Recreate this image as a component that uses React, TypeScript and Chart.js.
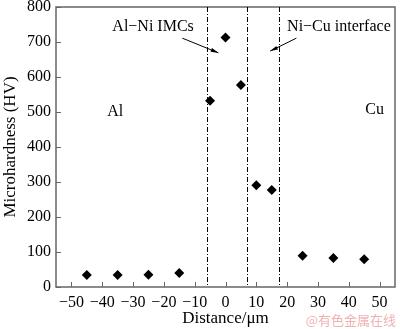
import React, { useEffect, useRef } from "react";
import { Chart, registerables } from "chart.js";

Chart.register(...registerables);

const distances = [-45, -35, -25, -15, -5, 0, 5, 10, 15, 25, 35, 45];
const hardness = [34, 34, 35, 40, 532, 713, 577, 291, 277, 89, 83, 79];
const xTicks = [-50, -40, -30, -20, -10, 0, 10, 20, 30, 40, 50];
const yTicks = [0, 100, 200, 300, 400, 500, 600, 700, 800];
const boundaryLines = [-6, 7, 17.5];
const labelTexts = ["Al\u2212Ni IMCs", "Ni\u2212Cu interface", "Al", "Cu"];
const labelX = [-23.5, 36.8, -35.8, 48.4];
const labelY = [743, 743, 500, 506];
const arrowFrom = [[-14, 711], [23, 711]];
const arrowTo = [[-2.3, 669], [14.5, 674]];
const watermark = "@有色金属在线";

const FONT = "'Liberation Serif', 'Times New Roman', serif";

export default function App() {
  const ref = useRef<HTMLCanvasElement>(null);
  useEffect(() => {
    document.body.style.margin = "0";
    const canvas = ref.current!;
    const overlay = {
      id: "overlay",
      afterDraw(chart: any) {
        const ctx = chart.ctx;
        const xs = chart.scales.x;
        const ys = chart.scales.y;
        const a = chart.chartArea;
        ctx.save();
        // frame
        ctx.strokeStyle = "#666";
        ctx.lineWidth = 1.5;
        ctx.strokeRect(a.left, a.top, a.right - a.left, a.bottom - a.top);
        // inward ticks
        ctx.lineWidth = 1;
        xTicks.forEach((v) => {
          const px = Math.round(xs.getPixelForValue(v)) + 0.5;
          ctx.beginPath();
          ctx.moveTo(px, a.bottom);
          ctx.lineTo(px, a.bottom - 5);
          ctx.stroke();
        });
        yTicks.forEach((v) => {
          const py = Math.round(ys.getPixelForValue(v)) + 0.5;
          ctx.beginPath();
          ctx.moveTo(a.left, py);
          ctx.lineTo(a.left + 5, py);
          ctx.stroke();
        });
        // boundary lines
        ctx.strokeStyle = "#000";
        ctx.lineWidth = 1;
        ctx.setLineDash([5, 2, 1, 2]);
        boundaryLines.forEach((v) => {
          const px = Math.round(xs.getPixelForValue(v)) + 0.5;
          ctx.beginPath();
          ctx.moveTo(px, a.top);
          ctx.lineTo(px, a.bottom);
          ctx.stroke();
        });
        ctx.setLineDash([]);
        // texts
        ctx.fillStyle = "#000";
        ctx.font = `16px ${FONT}`;
        ctx.textAlign = "center";
        ctx.textBaseline = "middle";
        labelTexts.forEach((t, i) => {
          ctx.fillText(t, xs.getPixelForValue(labelX[i]), ys.getPixelForValue(labelY[i]));
        });
        // arrows
        arrowFrom.forEach((f, i) => {
          const x1 = xs.getPixelForValue(f[0]);
          const y1 = ys.getPixelForValue(f[1]);
          const x2 = xs.getPixelForValue(arrowTo[i][0]);
          const y2 = ys.getPixelForValue(arrowTo[i][1]);
          ctx.beginPath();
          ctx.moveTo(x1, y1);
          ctx.lineTo(x2, y2);
          ctx.stroke();
          const ang = Math.atan2(y2 - y1, x2 - x1);
          const L = 8, W = 0.25;
          ctx.beginPath();
          ctx.moveTo(x2, y2);
          ctx.lineTo(x2 - L * Math.cos(ang - W), y2 - L * Math.sin(ang - W));
          ctx.lineTo(x2 - L * Math.cos(ang + W), y2 - L * Math.sin(ang + W));
          ctx.closePath();
          ctx.fill();
        });
        // watermark
        ctx.fillStyle = "rgba(235,150,150,0.75)";
        ctx.font = `13px 'Noto Sans CJK SC', sans-serif`;
        ctx.textAlign = "right";
        ctx.fillText(watermark, 396, 320);
        ctx.restore();
      },
    };
    const chart = new Chart(canvas, {
      type: "scatter",
      data: {
        datasets: [
          {
            data: distances.map((d, i) => ({ x: d, y: hardness[i] })),
            pointStyle: "rectRot",
            pointRadius: 5,
            backgroundColor: "#000",
            borderColor: "#000",
            borderWidth: 0,
          },
        ],
      },
      options: {
        animation: false,
        responsive: false,
        layout: { padding: { top: 7, right: -2, left: 0, bottom: 0 } },
        plugins: { legend: { display: false }, tooltip: { enabled: false } },
        scales: {
          x: {
            type: "linear",
            min: -55,
            max: 55,
            afterBuildTicks: (s: any) => {
              s.ticks = xTicks.map((v) => ({ value: v }));
            },
            afterFit: (s: any) => {
              s.height = 42;
              s.paddingLeft = 0;
              s.paddingRight = 0;
            },
            grid: { drawOnChartArea: false, drawTicks: false },
            border: { display: false },
            ticks: {
              color: "#000",
              font: { family: FONT, size: 16 },
              padding: 6,
              maxRotation: 0,
              autoSkip: false,
              callback: (v: any) => (Number(v) < 0 ? "\u2212" + Math.abs(Number(v)) : String(v)),
            },
            title: {
              display: true,
              text: "Distance/μm",
              color: "#000",
              font: { family: FONT, size: 17 },
              padding: { top: 9, bottom: 0 },
            },
          },
          y: {
            min: 0,
            max: 800,
            afterBuildTicks: (s: any) => {
              s.ticks = yTicks.map((v) => ({ value: v }));
            },
            afterFit: (s: any) => {
              s.width = 56;
              s.paddingTop = 0;
              s.paddingBottom = 0;
            },
            grid: { drawOnChartArea: false, drawTicks: false },
            border: { display: false },
            ticks: {
              color: "#000",
              font: { family: FONT, size: 16 },
              padding: 5,
              autoSkip: false,
            },
            title: {
              display: true,
              text: "Microhardness (HV)",
              color: "#000",
              font: { family: FONT, size: 17 },
              padding: { top: 0, bottom: 0 },
            },
          },
        },
      },
      plugins: [overlay],
    });
    return () => chart.destroy();
  }, []);
  return (
    <div style={{ width: 400, height: 329 }}>
      <canvas ref={ref} width={400} height={329} style={{ display: "block" }} />
    </div>
  );
}
